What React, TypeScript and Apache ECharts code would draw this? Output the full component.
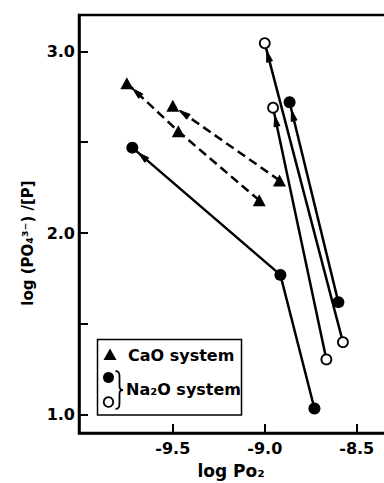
import React, { useEffect, useRef } from "react";
import * as echarts from "echarts";

// CaO system (filled triangles)
const caoPoints: number[][] = [
  [-9.75, 2.825],
  [-9.5, 2.7],
  [-9.47, 2.56],
  [-8.92, 2.29],
  [-9.03, 2.18],
];
// Na2O system, filled circles
const naFilledPoints: number[][] = [
  [-9.72, 2.47],
  [-8.915, 1.77],
  [-8.73, 1.035],
  [-8.865, 2.72],
  [-8.6, 1.62],
];
// Na2O system, open circles
const naOpenPoints: number[][] = [
  [-9.0, 3.045],
  [-8.955, 2.69],
  [-8.665, 1.305],
  [-8.575, 1.4],
];

// Connecting paths (arrow points to the last point)
const caoPaths: number[][] = [
  [4, 2, 0],
  [3, 1],
];
const naFilledPaths: number[][] = [
  [2, 1, 0],
  [4, 3],
];
const naOpenPaths: number[][] = [
  [3, 0],
  [2, 1],
];

const xTicks = [-9.5, -9.0, -8.5];
const yTicks = [1.0, 1.5, 2.0, 2.5, 3.0];
const yLabels = [1.0, 2.0, 3.0];

const FONT = "DejaVu Sans";

let braceRegistered = false;

export default function App() {
  const ref = useRef<HTMLDivElement>(null);

  useEffect(() => {
    if (!ref.current) return;
    if (!braceRegistered) {
      const Brace = echarts.graphic.extendPath(
        "M0 0 C4 0 4 3 4 7 L4 15 C4 18 5 19 7.5 19 C5 19 4 20 4 23 L4 31 C4 35 4 38 0 38",
        {}
      );
      echarts.graphic.registerShape("brace", Brace);
      braceRegistered = true;
    }
    const chart = echarts.init(ref.current, undefined, { renderer: "svg" });

    const paths: { pts: number[][]; dashed: boolean }[] = [];
    caoPaths.forEach((p) => paths.push({ pts: p.map((i) => caoPoints[i]), dashed: true }));
    naFilledPaths.forEach((p) => paths.push({ pts: p.map((i) => naFilledPoints[i]), dashed: false }));
    naOpenPaths.forEach((p) => paths.push({ pts: p.map((i) => naOpenPoints[i]), dashed: false }));

    const renderItem = (params: any, api: any) => {
      const path = paths[params.dataIndex];
      const pts = path.pts.map((p) => api.coord(p));
      const end = pts[pts.length - 1];
      const prev = pts[pts.length - 2];
      const dx = end[0] - prev[0];
      const dy = end[1] - prev[1];
      const len = Math.sqrt(dx * dx + dy * dy);
      const ux = dx / len;
      const uy = dy / len;
      const tipOff = 8;
      const headLen = 11;
      const hw = 3;
      const tip = [end[0] - ux * tipOff, end[1] - uy * tipOff];
      const base = [tip[0] - ux * headLen, tip[1] - uy * headLen];
      const nx = -uy;
      const ny = ux;
      return {
        type: "group",
        children: [
          {
            type: "polyline",
            shape: { points: pts },
            style: {
              stroke: "#000",
              lineWidth: 2.5,
              fill: null,
              lineDash: path.dashed ? [9, 5] : null,
            },
          },
          {
            type: "polygon",
            shape: {
              points: [
                tip,
                [base[0] + nx * hw, base[1] + ny * hw],
                [base[0] - nx * hw, base[1] - ny * hw],
              ],
            },
            style: { fill: "#000", stroke: "#000", lineWidth: 1 },
          },
        ],
      };
    };

    const option: any = {
      animation: false,
      backgroundColor: "#fff",
      grid: {
        left: 79,
        right: 8,
        top: 15,
        bottom: 50,
        show: true,
        borderColor: "#000",
        borderWidth: 2.5,
        backgroundColor: "transparent",
      },
      xAxis: {
        type: "value",
        min: -10.01,
        max: -8.33,
        axisLine: { show: true, lineStyle: { color: "#000", width: 2.5 } },
        axisTick: {
          show: true,
          inside: true,
          length: 9,
          customValues: xTicks,
          lineStyle: { color: "#000", width: 2 },
        },
        axisLabel: {
          customValues: xTicks,
          formatter: (v: number) => v.toFixed(1),
          color: "#000",
          fontFamily: FONT,
          fontWeight: "bold",
          fontSize: 16,
          margin: 7,
        },
        splitLine: { show: false },
      },
      yAxis: {
        type: "value",
        min: 0.9,
        max: 3.2,
        axisLine: { show: true, lineStyle: { color: "#000", width: 2.5 } },
        axisTick: {
          show: true,
          inside: true,
          length: 9,
          customValues: yTicks,
          lineStyle: { color: "#000", width: 2 },
        },
        axisLabel: {
          customValues: yLabels,
          formatter: (v: number) => v.toFixed(1),
          color: "#000",
          fontFamily: FONT,
          fontWeight: "bold",
          fontSize: 16,
          margin: 4,
        },
        splitLine: { show: false },
      },
      series: [
        {
          type: "custom",
          renderItem,
          z: 1,
          silent: true,
          data: paths.map((p) => p.pts[p.pts.length - 1]),
        },
        {
          type: "scatter",
          name: "CaO system",
          symbol: "triangle",
          symbolSize: [13, 12],
          itemStyle: { color: "#000", opacity: 1 },
          z: 3,
          data: caoPoints,
        },
        {
          type: "scatter",
          name: "Na2O system filled",
          symbol: "circle",
          symbolSize: 12,
          itemStyle: { color: "#000", opacity: 1 },
          z: 3,
          data: naFilledPoints,
        },
        {
          type: "scatter",
          name: "Na2O system open",
          symbol: "circle",
          symbolSize: 10,
          itemStyle: { color: "#fff", borderColor: "#000", borderWidth: 1.8, opacity: 1 },
          z: 3,
          data: naOpenPoints,
        },
      ],
      graphic: [
        {
          type: "rect",
          shape: { x: 97.5, y: 339.5, width: 144, height: 75.5 },
          style: { fill: "#fff", stroke: "#000", lineWidth: 1.5 },
          z: 10,
        },
        {
          type: "polygon",
          shape: { points: [[110, 348.5], [116.5, 360], [103.5, 360]] },
          style: { fill: "#000" },
          z: 11,
        },
        {
          type: "circle",
          shape: { cx: 108.5, cy: 377.5, r: 5.5 },
          style: { fill: "#000" },
          z: 11,
        },
        {
          type: "circle",
          shape: { cx: 108.5, cy: 402, r: 4.8 },
          style: { fill: "#fff", stroke: "#000", lineWidth: 1.8 },
          z: 11,
        },
        {
          type: "brace",
          x: 115.5,
          y: 371,
          style: { fill: "none", stroke: "#000", lineWidth: 1.8 },
          z: 11,
        },
        {
          type: "text",
          x: 128,
          y: 355,
          style: {
            text: "CaO system",
            font: `bold 16px "${FONT}"`,
            fill: "#000",
            align: "left",
            verticalAlign: "middle",
          },
          z: 11,
        },
        {
          type: "text",
          x: 126,
          y: 389,
          style: {
            text: "Na₂O system",
            font: `bold 16px "${FONT}"`,
            fill: "#000",
            align: "left",
            verticalAlign: "middle",
          },
          z: 11,
        },
        {
          type: "text",
          x: 28,
          y: 243,
          rotation: Math.PI / 2,
          style: {
            text: "log (PO₄³⁻) /[P]",
            font: `bold 15px "${FONT}"`,
            fill: "#000",
            align: "center",
            verticalAlign: "middle",
          },
        },
        {
          type: "text",
          x: 231,
          y: 471,
          style: {
            text: "log Po₂",
            font: `bold 17px "${FONT}"`,
            fill: "#000",
            align: "center",
            verticalAlign: "middle",
          },
        },
      ],
    };

    chart.setOption(option);
    return () => {
      chart.dispose();
    };
  }, []);

  return (
    <div
      style={{
        position: "absolute",
        left: 0,
        top: 0,
        width: 384,
        height: 483,
        overflow: "hidden",
      }}
    >
      <div ref={ref} style={{ width: 396, height: 483 }} />
    </div>
  );
}
